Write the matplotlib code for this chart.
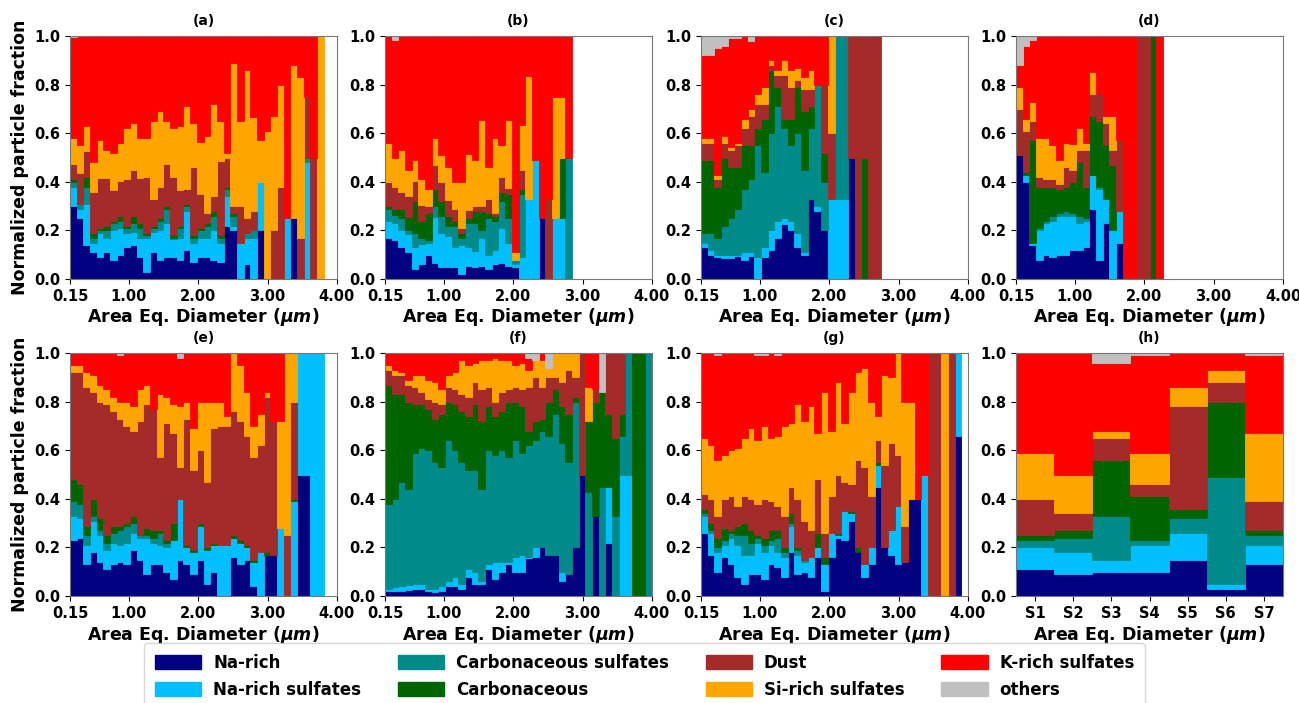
import matplotlib.pyplot as plt
import numpy as np
from matplotlib.patches import Patch

plt.rcParams['font.family'] = ['DejaVu Sans']
plt.rcParams['font.weight'] = 'bold'
plt.rcParams['axes.titleweight'] = 'bold'
plt.rcParams['axes.labelweight'] = 'bold'

classes = ['Na-rich', 'Na-rich sulfates', 'Carbonaceous sulfates', 'Carbonaceous',
           'Dust', 'Si-rich sulfates', 'K-rich sulfates', 'others']
colors = ['#000080', '#00BFFF', '#008B8B', '#006400', '#A52A2A', '#FFA500', '#FF0000', '#C0C0C0']

# one row per size bin: stacked top of Na-rich, Na-rich sulf., Carb. sulf.,
# Carbonaceous, Dust, Si-rich sulf. (K-rich fills up to 1 - others)
a_bins = [
    (.30, .38, .40, .41, .475, .58), (.25, .29, .31, .31, .435, .55), (.14, .31, .38, .42, .525, .63),
    (.11, .15, .17, .19, .36, .48), (.09, .19, .20, .21, .415, .57), (.11, .17, .20, .22, .415, .53),
    (.08, .20, .23, .24, .365, .52), (.10, .21, .24, .26, .405, .56), (.13, .19, .21, .22, .41, .62),
    (.14, .195, .23, .26, .45, .64), (.09, .17, .21, .23, .415, .58), (.03, .17, .18, .19, .42, .58),
    (.11, .195, .21, .22, .33, .65), (.08, .20, .24, .25, .38, .69), (.09, .23, .29, .30, .475, .65),
    (.09, .165, .17, .18, .42, .62), (.08, .17, .21, .22, .365, .63), (.12, .28, .30, .31, .37, .71),
    (.07, .15, .17, .18, .46, .64), (.09, .17, .20, .21, .35, .565), (.09, .17, .22, .23, .27, .59),
    (.08, .20, .26, .28, .34, .72), (.07, .15, .17, .18, .485, .65), (.22, .34, .37, .38, .50, .52),
    (.20, .22, .26, .27, .30, .89), (0, .15, .15, .15, .30, .65), (.06, .17, .19, .19, .25, .86),
    (0, .17, .20, .20, .28, .665), (.20, .40, .40, .40, .40, .57), (0, 0, 0, 0, 0, .61),
    (0, 0, 0, 0, .20, .67), (0, 0, 0, 0, .38, .80), (0, .25, .25, .25, .25, .25),
    (.25, .25, .25, .25, .25, .88), (0, 0, 0, 0, .17, .83), (0, .48, .50, .50, .75, .75),
    (0, 0, 0, 0, .50, .50), (0, 0, 0, 0, 0, 1.0),
]
a_others = {0: 0.005}

b_bins = [
    (.17, .24, .29, .30, .40, .56), (.16, .23, .265, .29, .38, .50), (.13, .20, .25, .29, .36, .53),
    (.11, .185, .20, .255, .34, .45), (.04, .13, .19, .32, .405, .49), (.06, .145, .17, .24, .305, .41),
    (.10, .15, .16, .27, .30, .37), (.065, .255, .30, .37, .47, .58), (.05, .19, .26, .32, .40, .51),
    (.05, .175, .22, .26, .325, .46), (.05, .13, .22, .24, .29, .40), (.02, .14, .17, .19, .21, .40),
    (.055, .13, .23, .25, .285, .515), (.05, .115, .23, .28, .30, .49), (.055, .17, .20, .28, .30, .655),
    (.04, .10, .25, .27, .33, .46), (.06, .12, .24, .26, .27, .58), (.065, .21, .32, .36, .42, .55),
    (.055, .15, .25, .35, .375, .655), (.05, .06, .08, .08, .08, .11), (0, .09, .35, .37, .45, .635),
    (0, .33, .33, .33, .33, .835), (0, .49, .49, .49, .49, .49), (.25, .25, .25, .25, .25, .25),
    (0, 0, 0, 0, .33, .33), (0, .25, .25, .25, .25, .75), (0, .25, .25, .50, .50, .75),
    (0, 0, .50, .50, .50, .50),
]
b_others = {1: 0.015}

c_bins = [
    (.13, .15, .19, .49, .56, .58), (.10, .12, .19, .49, .56, .58), (.09, .10, .17, .38, .41, .43),
    (.085, .10, .22, .50, .56, .59), (.085, .10, .25, .46, .53, .545), (.095, .10, .29, .46, .55, .56),
    (.08, .11, .37, .55, .62, .66), (.095, .11, .41, .55, .67, .70), (0, .09, .55, .62, .72, .76),
    (.09, .13, .44, .66, .72, .79), (.12, .20, .60, .86, .88, .90), (.17, .24, .71, .79, .84, .86),
    (.225, .25, .62, .66, .84, .90), (.20, .24, .55, .66, .79, .86), (.13, .19, .60, .79, .82, .87),
    (.10, .11, .45, .69, .78, .83), (.33, .33, .62, .71, .78, .86), (.28, .30, .80, .80, .80, .80),
    (.20, .20, .40, .52, .80, .80), (0, .33, .33, .33, .60, 1.0), (0, .33, 1.0, 1.0, 1.0, 1.0),
    (0, .33, 1.0, 1.0, 1.0, 1.0), (.50, .50, .50, .50, 1.0, 1.0), (0, 0, 0, 0, 1.0, 1.0),
    (0, 0, 0, .50, 1.0, 1.0), (0, 0, 0, 0, 1.0, 1.0), (0, 0, 0, 0, 1.0, 1.0),
]
c_others = {0: 0.08, 1: 0.08, 2: 0.05, 3: 0.04, 4: 0.01, 5: 0.01, 7: 0.02}

d_bins = [
    (.51, .51, .51, .51, .70, .79), (.40, .43, .43, .44, .61, .66), (.14, .15, .15, .57, .65, .73),
    (.08, .20, .21, .38, .42, .58), (.10, .23, .24, .38, .41, .58), (.09, .24, .26, .38, .41, .55),
    (.10, .26, .27, .37, .39, .49), (.10, .26, .28, .38, .46, .56), (.12, .26, .27, .40, .45, .555),
    (.12, .23, .26, .48, .53, .62), (.13, .24, .25, .38, .53, .56), (.29, .43, .43, .67, .76, .85),
    (.08, .37, .38, .65, .76, .76), (.23, .33, .33, .55, .64, .67), (0, .20, .20, .47, .53, .67),
    (.15, .28, .28, .28, .57, .57), (0, 0, 0, 0, 0, 0), (0, 0, 0, 0, 0, 0),
    (0, 0, 0, 0, 1.0, 1.0), (0, 0, 0, 0, 1.0, 1.0), (0, 0, 0, 1.0, 1.0, 1.0), (0, 0, 0, 0, 0, 0),
]
d_others = {0: 0.12, 1: 0.04, 2: 0.015}

e_bins = [
    (.23, .33, .39, .48, .92, .95), (.24, .32, .38, .46, .92, .95), (.13, .21, .25, .29, .86, .92),
    (.18, .31, .33, .40, .84, .91), (.14, .25, .27, .32, .80, .87), (.11, .19, .22, .25, .79, .85),
    (.13, .22, .26, .29, .76, .82), (.14, .21, .27, .29, .73, .80), (.13, .22, .29, .30, .70, .80),
    (.19, .26, .30, .33, .68, .78), (.15, .24, .25, .25, .72, .85), (.09, .24, .25, .28, .79, .87),
    (.13, .22, .24, .27, .77, .77), (.13, .21, .26, .27, .57, .83), (.10, .20, .22, .23, .71, .82),
    (.07, .23, .23, .30, .67, .79), (.15, .40, .40, .40, .53, .78), (.13, .20, .20, .21, .73, .80),
    (.09, .18, .18, .19, .52, .69), (.15, .29, .29, .30, .60, .80), (.05, .19, .19, .20, .47, .80),
    (.10, .21, .21, .22, .69, .80), (0, .21, .21, .21, .70, .80), (0, .21, .21, .21, .70, .74),
    (.16, .24, .24, .25, .76, 1.0), (.13, .22, .22, .23, .72, .95), (.15, .20, .20, .21, .66, .84),
    (.04, .14, .14, .15, .57, .70), (0, .18, .18, .18, .62, .75), (.17, .17, .17, .18, .82, .84),
    (.17, .17, .17, .17, .72, .72), (0, .28, .28, .28, .28, .72), (0, 0, 0, 0, .25, 1.0),
    (0, .39, .39, .40, .80, 1.0), (.50, 1.0, 1.0, 1.0, 1.0, 1.0), (.50, 1.0, 1.0, 1.0, 1.0, 1.0),
    (0, 1.0, 1.0, 1.0, 1.0, 1.0), (0, 1.0, 1.0, 1.0, 1.0, 1.0),
]
e_others = {7: 0.01, 16: 0.02}

f_bins = [
    (.02, .03, .38, .87, .93, .95), (.02, .035, .40, .83, .91, .93), (.02, .04, .47, .83, .91, .92),
    (.025, .045, .44, .80, .87, .89), (.03, .05, .59, .79, .86, .91), (.03, .05, .61, .79, .84, .91),
    (.02, .03, .60, .77, .81, .89), (.015, .03, .55, .73, .80, .88), (.02, .04, .53, .75, .79, .85),
    (.04, .06, .64, .80, .86, .91), (.04, .08, .60, .79, .85, .92), (.03, .05, .55, .76, .83, .97),
    (.08, .11, .52, .74, .82, .95), (.05, .10, .52, .79, .88, .96), (.05, .06, .44, .72, .85, .97),
    (.11, .13, .60, .78, .86, .97), (.07, .14, .58, .74, .80, .98), (.10, .14, .60, .76, .84, .97),
    (.13, .14, .57, .80, .85, .97), (.10, .16, .64, .80, .86, .95), (.10, .17, .59, .78, .85, .96),
    (.155, .16, .62, .68, .86, .93), (.16, .20, .64, .72, .90, .97), (.20, .20, .68, .73, .86, .97),
    (.17, .17, .66, .80, .90, .94), (.17, .17, .75, .85, .90, 1.0), (.06, .10, .63, .78, .88, 1.0),
    (.09, .09, .55, .75, .93, 1.0), (.20, .20, .80, .82, .90, 1.0), (.50, .50, .50, .50, 1.0, 1.0),
    (0, 0, .43, .72, .72, .86), (.33, .33, .33, .80, .85, .85), (0, 0, .45, .84, .84, .84),
    (.22, .45, .45, .75, 1.0, 1.0), (0, 0, .33, .65, 1.0, 1.0), (0, .50, .66, .75, 1.0, 1.0),
    (0, .50, 1.0, 1.0, 1.0, 1.0), (0, 0, 0, 1.0, 1.0, 1.0), (0, 0, 0, 1.0, 1.0, 1.0),
    (0, 0, 1.0, 1.0, 1.0, 1.0),
]
f_others = {21: 0.02, 22: 0.03, 24: 0.06, 32: 0.16}

g_bins = [
    (.26, .33, .34, .36, .42, .65), (.17, .26, .27, .30, .40, .62), (.10, .18, .20, .24, .33, .56),
    (.16, .21, .23, .28, .40, .58), (.13, .24, .26, .27, .41, .60), (.08, .21, .25, .29, .37, .61),
    (.05, .17, .25, .30, .41, .65), (.09, .17, .22, .27, .40, .69), (.09, .22, .24, .25, .38, .64),
    (.07, .18, .21, .24, .40, .70), (.13, .21, .23, .27, .39, .65), (.12, .18, .24, .27, .37, .66),
    (.08, .16, .18, .20, .33, .70), (.18, .29, .30, .34, .45, .71), (.09, .17, .19, .20, .40, .79),
    (.10, .14, .15, .15, .31, .72), (.08, .16, .16, .16, .27, .78), (.16, .20, .20, .26, .48, .67),
    (.02, .13, .13, .16, .26, .84), (.16, .26, .26, .26, .41, .68), (.24, .25, .25, .26, .50, .88),
    (.23, .35, .35, .35, .47, .71), (.31, .34, .34, .35, .46, .84), (.18, .18, .18, .20, .56, .92),
    (.08, .13, .13, .13, .53, .94), (.13, .20, .20, .20, .41, .80), (.45, .54, .54, .55, .64, .74),
    (.20, .20, .20, .20, .54, .91), (.17, .27, .27, .27, .63, .90), (.13, .37, .37, .37, .58, 1.0),
    (.14, .14, .14, .14, .29, .80), (.40, .40, .40, .40, .40, .80), (.40, .40, .40, .40, .40, .40),
    (0, .50, .50, .50, .50, .50), (0, 0, 0, 0, 1.0, 1.0), (0, 0, 0, 0, 1.0, 1.0),
    (0, 0, 0, 0, 0, 1.0), (0, 0, 0, 0, 1.0, 1.0), (.66, 1.0, 1.0, 1.0, 1.0, 1.0),
]
g_others = {2: 0.01, 8: 0.01, 9: 0.01, 11: 0.01}

h_sites = ['S1', 'S2', 'S3', 'S4', 'S5', 'S6', 'S7']
h_bins = [
    (.11, .20, .23, .25, .40, .59), (.09, .18, .24, .27, .34, .50), (.10, .15, .33, .56, .65, .68),
    (.10, .21, .23, .41, .46, .59), (.15, .26, .32, .36, .78, .86), (.03, .05, .49, .80, .88, .93),
    (.13, .21, .25, .27, .39, .67),
]
h_others = {2: 0.04, 3: 0.01, 6: 0.01}

panels = [('(a)', a_bins, a_others), ('(b)', b_bins, b_others), ('(c)', c_bins, c_others),
          ('(d)', d_bins, d_others), ('(e)', e_bins, e_others), ('(f)', f_bins, f_others),
          ('(g)', g_bins, g_others), ('(h)', h_bins, h_others)]

bin_w = 3.85 / 40  # 40 size bins between 0.15 and 4.00 um
W, H = 1299, 703
col_left = [70, 385, 701, 1016]
row_top = [36, 353]
ax_w, ax_h = 267, 243


def stack(ax, x, bins, others, width):
    tops = np.array(bins, dtype=float).T
    n = tops.shape[1]
    oth = np.zeros(n)
    for k, v in others.items():
        oth[k] = v
    bounds = np.vstack([np.zeros(n), tops, 1 - oth, np.ones(n)])
    for i in range(8):
        hgt = np.clip(bounds[i + 1] - bounds[i], 0, None)
        ec = [colors[i] if v > 0 else 'none' for v in hgt]
        ax.bar(x, hgt, width=width, bottom=bounds[i], align='edge',
               color=colors[i], edgecolor=ec, linewidth=0.6)


fig = plt.figure(figsize=(W / 100, H / 100), dpi=100)
for idx, (title, bins, others) in enumerate(panels):
    r, c = divmod(idx, 4)
    ax = fig.add_axes([col_left[c] / W, 1 - (row_top[r] + ax_h) / H, ax_w / W, ax_h / H])
    if title == '(h)':
        x = np.arange(len(bins))
        stack(ax, x, bins, others, 1.0)
        ax.set_xlim(0, len(bins))
        ax.set_xticks(x + 0.5)
        ax.set_xticklabels(h_sites)
    else:
        x = 0.15 + bin_w * np.arange(len(bins))
        stack(ax, x, bins, others, bin_w)
        ax.set_xlim(0.15, 4.0)
        ax.set_xticks([0.15, 1, 2, 3, 4])
        ax.set_xticklabels(['0.15', '1.00', '2.00', '3.00', '4.00'])
    ax.set_ylim(0, 1)
    ax.set_yticks(np.arange(0, 1.01, 0.2))
    ax.set_yticklabels(['0.0', '0.2', '0.4', '0.6', '0.8', '1.0'])
    ax.tick_params(labelsize=10.5, length=3.5, width=0.8)
    for s in ax.spines.values():
        s.set_color('#777777')
        s.set_linewidth(0.8)
    ax.set_title(title, fontsize=10, pad=8)
    ax.set_xlabel(r'Area Eq. Diameter ($\mu m$)', fontsize=12.5, labelpad=2)
    if c == 0:
        ax.set_ylabel('Normalized particle fraction', fontsize=12.5, labelpad=4)

handles = [Patch(facecolor=col, edgecolor=col) for col in colors]
fig.legend(handles, classes, ncol=4, loc='upper center', bbox_to_anchor=(0.496, 1 - 643 / H),
           borderaxespad=0, borderpad=0.65, fontsize=12, handlelength=2.8, handleheight=0.9,
           handletextpad=0.7, columnspacing=2.2, labelspacing=0.55, frameon=True,
           fancybox=True, edgecolor='#cccccc')

fig.savefig('out.png', dpi=100)
